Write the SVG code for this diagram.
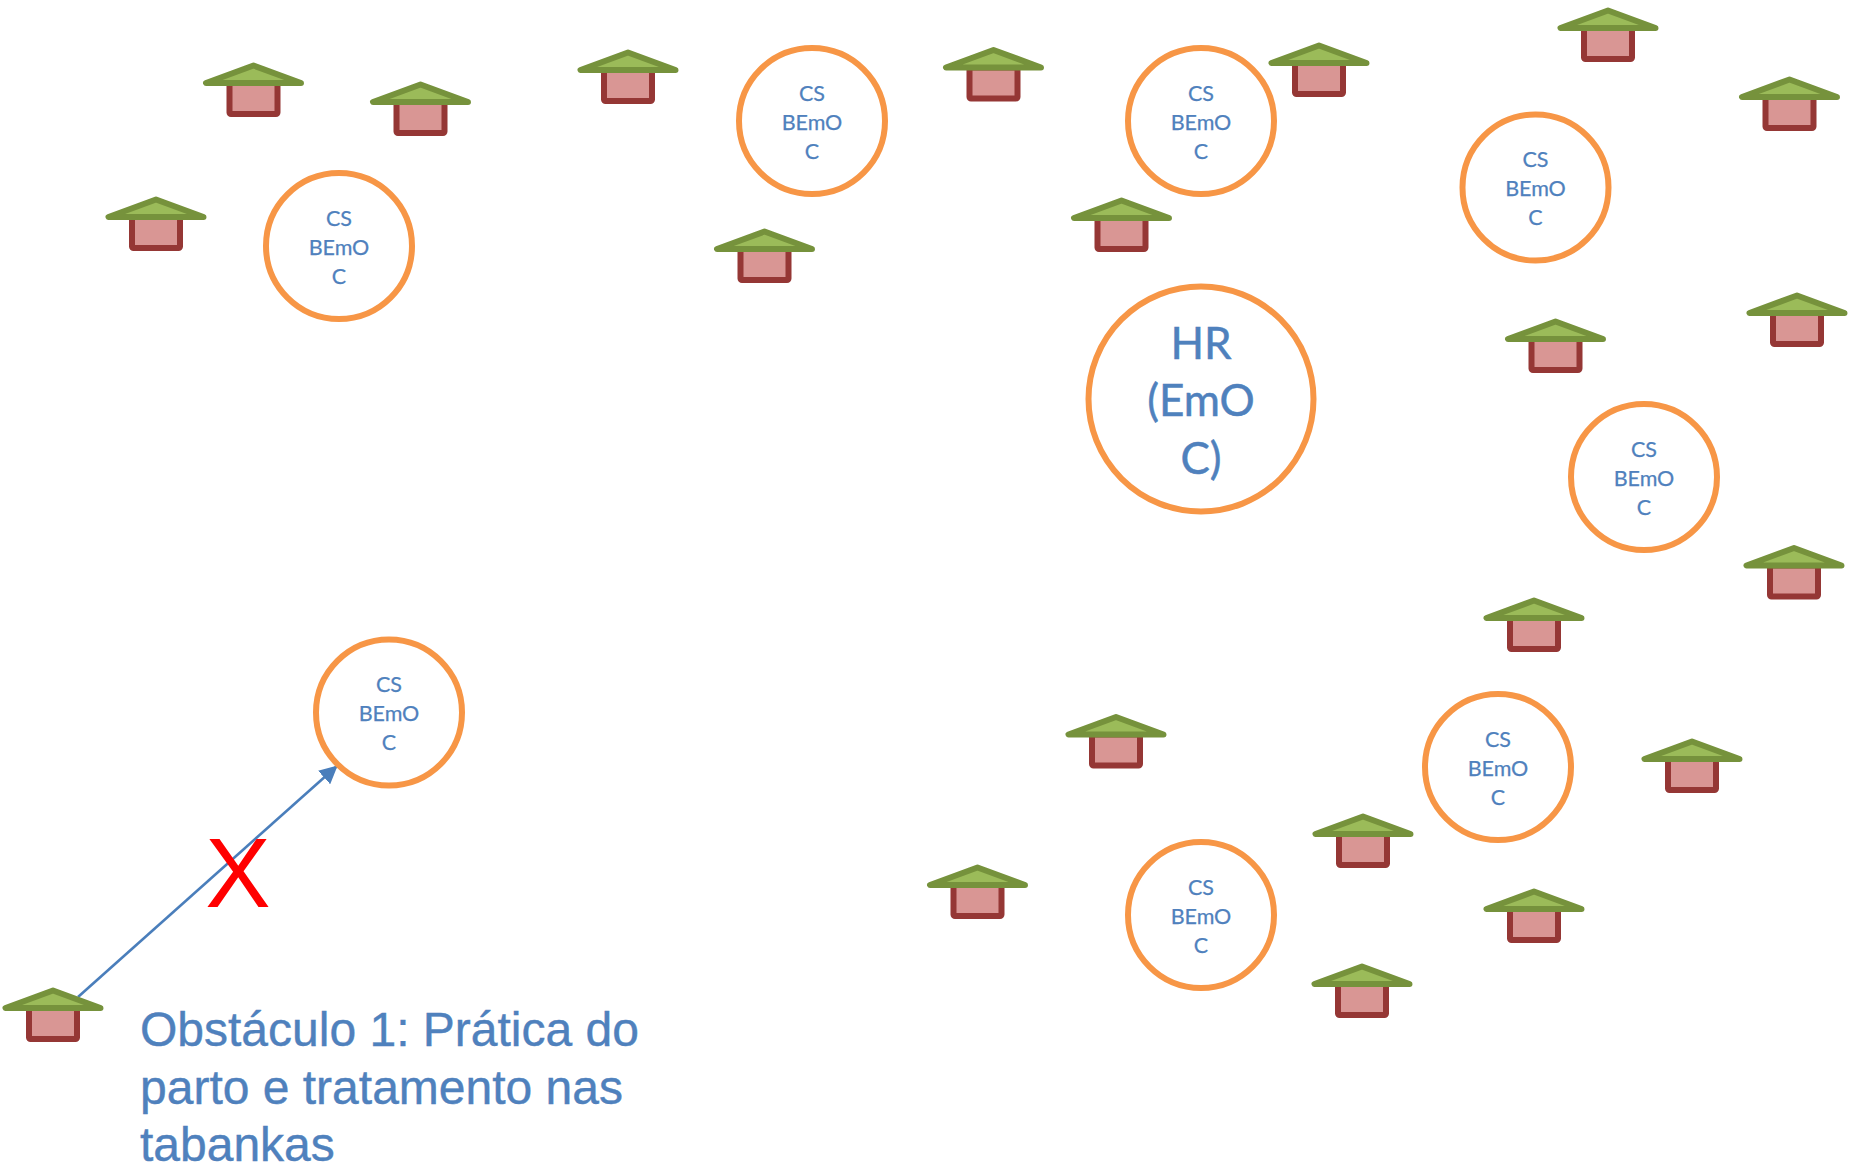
<svg xmlns="http://www.w3.org/2000/svg" width="1861" height="1166" viewBox="0 0 1861 1166">
<style>
.ring{fill:#fff;stroke:#f79646;stroke-width:6}
.t{font-family:Lato,"Liberation Sans",sans-serif;fill:#4f81bd;stroke:#4f81bd;stroke-width:.25;text-anchor:middle}
.s{font-size:21.5px}
.b{font-size:44px;stroke-width:.5}
.ob{font-family:"Liberation Sans",Arial,sans-serif;font-size:48px;fill:#4f81bd;stroke:#4f81bd;stroke-width:.4}
.x{font-family:"Liberation Sans",Arial,sans-serif;font-size:98px;fill:#f00;text-anchor:middle}
.link{stroke:#4a7ebb;stroke-width:2.6;fill:none}
</style>
<defs>
<g id="house">
<rect x="-24" y="20" width="48" height="31" rx="1.5" fill="#d99694" stroke="#953735" stroke-width="6"/>
<path d="M0 2.500 L-47.500 20 H47.500 Z" fill="#9bbb59" stroke="#76923c" stroke-width="6" stroke-linejoin="round"/>
</g>
<marker id="arrow" viewBox="0 0 10 10" refX="9.500" refY="5" markerWidth="7" markerHeight="7" markerUnits="strokeWidth" orient="auto"><path d="M0 0 L10 5 L0 10 Z" fill="#4a7ebb"/></marker>
</defs>
<rect width="1861" height="1166" fill="#fff"/>
<g id="connectors">
<path class="link" d="M78 997 L337 766" marker-end="url(#arrow)"/>
</g>
<g id="h1"><use href="#house" x="53" y="988"/></g>
<g id="h2"><use href="#house" x="253.500" y="63"/></g>
<g id="h3"><use href="#house" x="420.500" y="82"/></g>
<g id="h4"><use href="#house" x="628" y="50"/></g>
<g id="h5"><use href="#house" x="156" y="197"/></g>
<g id="h6"><use href="#house" x="764.500" y="229"/></g>
<g id="h7"><use href="#house" x="993.500" y="47.500"/></g>
<g id="h8"><use href="#house" x="1319" y="43"/></g>
<g id="h9"><use href="#house" x="1121.500" y="198"/></g>
<g id="h10"><use href="#house" x="1608" y="8"/></g>
<g id="h11"><use href="#house" x="1789.500" y="77"/></g>
<g id="h12"><use href="#house" x="1555.500" y="319"/></g>
<g id="h13"><use href="#house" x="1797" y="293"/></g>
<g id="h14"><use href="#house" x="1794" y="545.500"/></g>
<g id="h15"><use href="#house" x="1534" y="598"/></g>
<g id="h16"><use href="#house" x="1116" y="714.500"/></g>
<g id="h17"><use href="#house" x="1692" y="739"/></g>
<g id="h18"><use href="#house" x="1363" y="814"/></g>
<g id="h19"><use href="#house" x="977.500" y="865"/></g>
<g id="h20"><use href="#house" x="1534" y="889"/></g>
<g id="h21"><use href="#house" x="1362" y="964"/></g>
<g id="cs1"><circle class="ring" cx="339" cy="246" r="73"/><text class="t s" x="339" y="225.500">CS</text><text class="t s" x="339" y="254.500">BEmO</text><text class="t s" x="339" y="283.500">C</text></g>
<g id="cs2"><circle class="ring" cx="812" cy="121" r="73"/><text class="t s" x="812" y="100.500">CS</text><text class="t s" x="812" y="129.500">BEmO</text><text class="t s" x="812" y="158.500">C</text></g>
<g id="cs3"><circle class="ring" cx="1201" cy="121" r="73"/><text class="t s" x="1201" y="100.500">CS</text><text class="t s" x="1201" y="129.500">BEmO</text><text class="t s" x="1201" y="158.500">C</text></g>
<g id="cs4"><circle class="ring" cx="1535.500" cy="187.500" r="73"/><text class="t s" x="1535.500" y="167">CS</text><text class="t s" x="1535.500" y="196">BEmO</text><text class="t s" x="1535.500" y="225">C</text></g>
<g id="cs5"><circle class="ring" cx="1644" cy="477" r="73"/><text class="t s" x="1644" y="456.500">CS</text><text class="t s" x="1644" y="485.500">BEmO</text><text class="t s" x="1644" y="514.500">C</text></g>
<g id="cs6"><circle class="ring" cx="1498" cy="767" r="73"/><text class="t s" x="1498" y="746.500">CS</text><text class="t s" x="1498" y="775.500">BEmO</text><text class="t s" x="1498" y="804.500">C</text></g>
<g id="cs7"><circle class="ring" cx="1201" cy="915" r="73"/><text class="t s" x="1201" y="894.500">CS</text><text class="t s" x="1201" y="923.500">BEmO</text><text class="t s" x="1201" y="952.500">C</text></g>
<g id="cs8"><circle class="ring" cx="389" cy="712.500" r="73"/><text class="t s" x="389" y="692">CS</text><text class="t s" x="389" y="721">BEmO</text><text class="t s" x="389" y="750">C</text></g>
<g id="hr"><circle class="ring" cx="1201" cy="399" r="112.500"/><text class="t b" x="1201" y="359">HR</text><text class="t b" x="1201" y="416">(EmO</text><text class="t b" x="1201" y="474">C)</text></g>
<g id="cross"><text class="x" x="238" y="907">X</text></g>
<g id="note"><text class="ob" x="140" y="1046">Obstáculo 1: Prática do</text><text class="ob" x="140" y="1104">parto e tratamento nas</text><text class="ob" x="140" y="1161">tabankas</text></g>
</svg>
